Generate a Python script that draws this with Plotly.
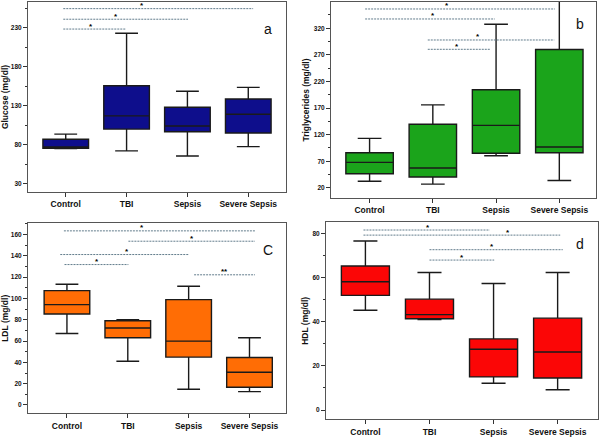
import plotly.graph_objects as go

categories = ["Control", "TBI", "Sepsis", "Severe Sepsis"]

# Panel a: Glucose
glu_low = [75, 72, 65.5, 77.5]
glu_q1 = [75.5, 100, 96.5, 95]
glu_med = [77, 117, 104, 119]
glu_q3 = [87, 155.5, 128, 138.5]
glu_high = [93.5, 223, 148.5, 153.5]

# Panel b: Triglycerides
tg_low = [32.5, 27, 80.5, 34]
tg_q1 = [46.5, 40.5, 85, 86]
tg_med = [68, 57.5, 137.5, 97]
tg_q3 = [86, 139.5, 204.5, 280]
tg_high = [113, 176, 327.5, 372]

# Panel c: LDL
ldl_low = [67, 41, 14.7, 12.5]
ldl_q1 = [85.3, 63.1, 44.9, 16.6]
ldl_med = [94.1, 72.2, 59.9, 30.7]
ldl_q3 = [107.3, 79, 98.8, 44.5]
ldl_high = [113.2, 80, 111.4, 63.1]

# Panel d: HDL
hdl_low = [45.2, 41, 12.1, 9.2]
hdl_q1 = [51.9, 41.3, 15, 14.5]
hdl_med = [58.1, 43.2, 27.5, 26.3]
hdl_q3 = [65.2, 50.2, 32.2, 41.6]
hdl_high = [76.5, 62.3, 57.3, 62.3]

# Significance comparisons: start, end, level, star position, label
glu_sig_from = [-0.04, -0.04, -0.04]
glu_sig_to = [3.08, 2.01, 0.99]
glu_sig_level = [254.5, 240.9, 228.3]
glu_sig_star = [1.25, 0.83, 0.42]
glu_sig_label = ["*", "*", "*"]

tg_sig_from = [-0.07, -0.07, 0.92, 0.92]
tg_sig_to = [2.93, 1.98, 2.92, 1.91]
tg_sig_level = [356.3, 337.5, 298, 280.5]
tg_sig_star = [1.22, 1.0, 1.71, 1.39]
tg_sig_label = ["*", "*", "*", "*"]

ldl_sig_from = [-0.05, 1.01, -0.11, -0.04, 2.09]
ldl_sig_to = [3.09, 3.09, 2.0, 1.01, 3.09]
ldl_sig_level = [163.3, 153.6, 141.1, 131.7, 122.1]
ldl_sig_star = [1.23, 2.05, 0.99, 0.49, 2.59]
ldl_sig_label = ["*", "*", "*", "*", "**"]

hdl_sig_from = [-0.03, -0.03, 1.0, 1.0]
hdl_sig_to = [1.94, 3.04, 3.08, 2.01]
hdl_sig_level = [81.5, 79.2, 72.6, 67.9]
hdl_sig_star = [0.97, 2.22, 1.98, 1.51]
hdl_sig_label = ["*", "*", "*", "*"]

W, H = 600, 437
FONT = "Liberation Sans, Arial, sans-serif"

panels = [
    dict(ax="", low=glu_low, q1=glu_q1, med=glu_med, q3=glu_q3, high=glu_high,
         fill="#0e0e8c", title="Glucose (mg/dl)", xpx=(28, 286), ypx=(2, 192),
         xr=[-0.62, 3.62], yr=[19.3, 263], tick0=30, dtick=50, minor=25,
         sf=glu_sig_from, st=glu_sig_to, sl=glu_sig_level, ss=glu_sig_star, slab=glu_sig_label,
         letter="a", lpx=(268, 29)),
    dict(ax="2", low=tg_low, q1=tg_q1, med=tg_med, q3=tg_q3, high=tg_high,
         fill="#1ba41b", title="Triglycerides (mg/dl)", xpx=(331, 596), ypx=(2, 198),
         xr=[-0.61, 3.58], yr=[1, 369.4], tick0=20, dtick=50, minor=25,
         sf=tg_sig_from, st=tg_sig_to, sl=tg_sig_level, ss=tg_sig_star, slab=tg_sig_label,
         letter="b", lpx=(580, 24)),
    dict(ax="3", low=ldl_low, q1=ldl_q1, med=ldl_med, q3=ldl_q3, high=ldl_high,
         fill="#ff6d05", title="LDL (mg/dl)", xpx=(28, 286), ypx=(223.3, 413.3),
         xr=[-0.64, 3.6], yr=[-7.8, 170.4], tick0=0, dtick=20, minor=10,
         sf=ldl_sig_from, st=ldl_sig_to, sl=ldl_sig_level, ss=ldl_sig_star, slab=ldl_sig_label,
         letter="C", lpx=(268, 250)),
    dict(ax="4", low=hdl_low, q1=hdl_q1, med=hdl_med, q3=hdl_q3, high=hdl_high,
         fill="#fb0606", title="HDL (mg/dl)", xpx=(326, 598), ypx=(222.3, 419.3),
         xr=[-0.615, 3.63], yr=[-4.2, 85], tick0=0, dtick=20, minor=10,
         sf=hdl_sig_from, st=hdl_sig_to, sl=hdl_sig_level, ss=hdl_sig_star, slab=hdl_sig_label,
         letter="d", lpx=(580, 244)),
]

fig = go.Figure()
layout = dict(width=W, height=H, margin=dict(l=0, r=0, t=0, b=0, autoexpand=False),
              paper_bgcolor="white", plot_bgcolor="white", showlegend=False,
              font=dict(family=FONT, color="#111"))
shapes = []
annotations = []

for p in panels:
    xa = "x" + p["ax"]
    ya = "y" + p["ax"]
    fig.add_trace(go.Box(
        x=categories, q1=p["q1"], median=p["med"], q3=p["q3"],
        lowerfence=p["low"], upperfence=p["high"],
        fillcolor=p["fill"], line=dict(color="#1a1a1a", width=1.4),
        width=0.75, whiskerwidth=0.5, boxpoints=False,
        xaxis=xa, yaxis=ya, hoverinfo="skip", showlegend=False))
    xkey = "xaxis" + p["ax"]
    ykey = "yaxis" + p["ax"]
    x0, x1 = p["xpx"]
    y0, y1 = p["ypx"]
    layout[xkey] = dict(
        domain=[x0 / W, x1 / W], anchor=ya, type="category", automargin=False,
        categoryorder="array", categoryarray=categories,
        range=p["xr"], showline=True, mirror=True, linecolor="#555", linewidth=1,
        ticks="outside", ticklen=4, tickcolor="#333", showgrid=False, zeroline=False,
        tickfont=dict(family=FONT, size=8.5, weight="bold", color="#111"))
    layout[ykey] = dict(
        domain=[1 - y1 / H, 1 - y0 / H], anchor=xa, automargin=False,
        range=p["yr"], tick0=p["tick0"], dtick=p["dtick"],
        showline=True, mirror=True, linecolor="#555", linewidth=1,
        ticks="outside", ticklen=4, tickcolor="#333", showgrid=False, zeroline=False,
        minor=dict(ticks="outside", ticklen=2, dtick=p["minor"], tick0=p["tick0"],
                   tickcolor="#333", showgrid=False),
        tickfont=dict(family=FONT, size=6.5, weight="bold", color="#111"),
        title=dict(text=p["title"], standoff=2,
                   font=dict(family=FONT, size=8.5, weight="bold", color="#111")))
    for f, t, lv, s, lab in zip(p["sf"], p["st"], p["sl"], p["ss"], p["slab"]):
        shapes.append(dict(type="line", xref=xa, yref=ya, x0=f, x1=t, y0=lv, y1=lv,
                           line=dict(color="#627c8c", width=1, dash="2px,1px")))
        annotations.append(dict(xref=xa, yref=ya, x=s, y=lv, text=lab, showarrow=False,
                                yshift=3, font=dict(family=FONT, size=8, color="#000", weight="bold")))
    annotations.append(dict(xref="paper", yref="paper", x=p["lpx"][0] / W, y=1 - p["lpx"][1] / H,
                            text=p["letter"], showarrow=False, xanchor="center", yanchor="middle",
                            font=dict(family=FONT, size=14, color="#111")))

layout["shapes"] = shapes
layout["annotations"] = annotations
fig.update_layout(**layout)
fig.write_html("out.html", config={"displayModeBar": False, "staticPlot": True},
               post_script="document.body.style.margin='0px';")
